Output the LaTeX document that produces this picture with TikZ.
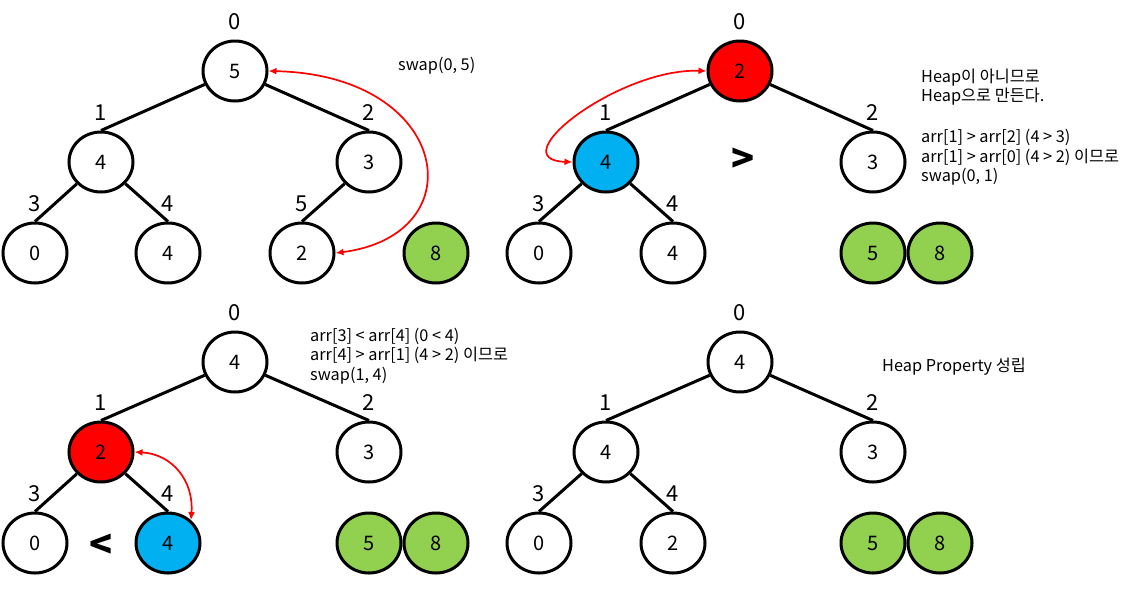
\documentclass[tikz,border=0pt]{standalone}
\usepackage{fontspec}
\setmainfont{Noto Sans CJK KR}
\usetikzlibrary{shapes.geometric,arrows.meta,positioning}
\definecolor{pickblue}{RGB}{0,176,240}
\definecolor{donegreen}{RGB}{146,208,80}
\begin{document}
\begin{tikzpicture}[x=1pt,y=-1pt,
 hnode/.style={ellipse,draw,line width=3pt,minimum width=64pt,minimum height=60pt,inner sep=0pt,font=\fontsize{20}{20}\selectfont},
 hot/.style={hnode,fill=red},
 pick/.style={hnode,fill=pickblue},
 done/.style={hnode,fill=donegreen},
 idx/.style={font=\fontsize{22}{22}\selectfont,inner sep=0pt,label distance=10pt},
 edge/.style={line width=3pt},
 swaparrow/.style={red,line width=1.7pt,{Latex[length=8pt,width=7pt]}-{Latex[length=8pt,width=7pt]}},
 note/.style={font=\fontsize{16.3}{19.3}\selectfont,align=left,anchor=north west,inner sep=0pt},
 cmp/.style={font=\fontsize{38}{38}\selectfont\bfseries,inner sep=0pt}]
 \useasboundingbox (0,0) rectangle (1140,595);
 \node[hnode,label={[idx]above:0}] (a0) at (235,71) {5};
 \node[hnode,label={[idx]above:1}] (a1) at (101,162) {4};
 \node[hnode,label={[idx]above:2}] (a2) at (369,162) {3};
 \node[hnode,label={[idx]above:3}] (a3) at (35,253) {0};
 \node[hnode,label={[idx]above:4}] (a4) at (168,253) {4};
 \node[hnode,label={[idx]above:5}] (a5) at (302,253) {2};
 \node[done] (aS8) at (436,253) {8};
 \draw[edge] (a0) -- (a1.north);
 \draw[edge] (a0) -- (a2.north);
 \draw[edge] (a1) -- (a3.north);
 \draw[edge] (a1) -- (a4.north);
 \draw[edge] (a2) -- (a5.north);
 \draw[swaparrow] (a0.east) .. controls +(183,4) and +(141,-18) .. (a5.east);
 \node[note,anchor=west] (swapA) at (398,66) {swap(0, 5)};
 \node[hot,label={[idx]above:0}] (b0) at (740,71) {2};
 \node[pick,label={[idx]above:1}] (b1) at (606,162) {4};
 \node[hnode,label={[idx]above:2}] (b2) at (873,162) {3};
 \node[hnode,label={[idx]above:3}] (b3) at (539,253) {0};
 \node[hnode,label={[idx]above:4}] (b4) at (673,253) {4};
 \node[done] (bS5) at (873,253) {5};
 \node[done,right=0pt of bS5] (bS8) {8};
 \draw[edge] (b0) -- (b1.north);
 \draw[edge] (b0) -- (b2.north);
 \draw[edge] (b1) -- (b3.north);
 \draw[edge] (b1) -- (b4.north);
 \draw[swaparrow] (b0.west) .. controls +(-88,-3) and +(-73,-2) .. (b1.west);
 \node[cmp] (gtB) at (743,160) {>};
 \node[note] (noteB) at (921,69) {Heap이 아니므로\\Heap으로 만든다.\\[21.7pt]arr[1] > arr[2] (4 > 3)\\arr[1] > arr[0] (4 > 2) 이므로\\swap(0, 1)};
 \node[hnode,label={[idx]above:0}] (c0) at (235,362) {4};
 \node[hot,label={[idx]above:1}] (c1) at (101,452) {2};
 \node[hnode,label={[idx]above:2}] (c2) at (369,452) {3};
 \node[hnode,label={[idx]above:3}] (c3) at (35,543) {0};
 \node[pick,label={[idx]above:4}] (c4) at (168,543) {4};
 \node[done] (cS5) at (369,543) {5};
 \node[done,right=0pt of cS5] (cS8) {8};
 \draw[edge] (c0) -- (c1.north);
 \draw[edge] (c0) -- (c2.north);
 \draw[edge] (c1) -- (c3.north);
 \draw[edge] (c1) -- (c4.north);
 \draw[swaparrow] (c1.east) .. controls +(38,2) and +(3,-39) .. (c4.45);
 \node[cmp] (ltC) at (101,546) {<};
 \node[note] (noteC) at (310,328) {arr[3] < arr[4] (0 < 4)\\arr[4] > arr[1] (4 > 2) 이므로\\swap(1, 4)};
 \node[hnode,label={[idx]above:0}] (d0) at (740,362) {4};
 \node[hnode,label={[idx]above:1}] (d1) at (606,452) {4};
 \node[hnode,label={[idx]above:2}] (d2) at (873,452) {3};
 \node[hnode,label={[idx]above:3}] (d3) at (539,543) {0};
 \node[hnode,label={[idx]above:4}] (d4) at (673,543) {2};
 \node[done] (dS5) at (873,543) {5};
 \node[done,right=0pt of dS5] (dS8) {8};
 \draw[edge] (d0) -- (d1.north);
 \draw[edge] (d0) -- (d2.north);
 \draw[edge] (d1) -- (d3.north);
 \draw[edge] (d1) -- (d4.north);
 \node[note,anchor=west] (noteD) at (882,367) {Heap Property 성립};
\end{tikzpicture}
\end{document}
